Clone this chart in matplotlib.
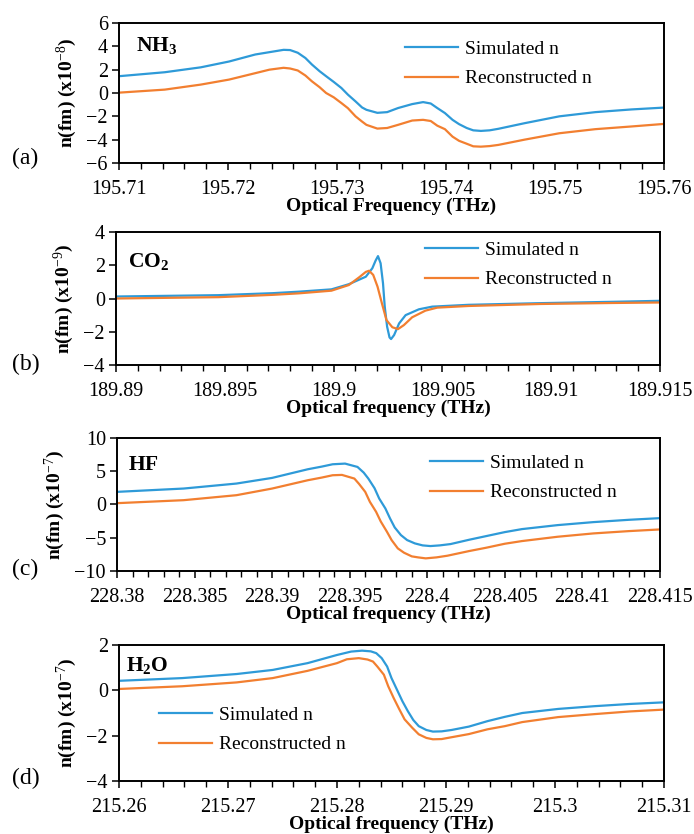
import matplotlib
matplotlib.use("Agg")
import matplotlib.pyplot as plt
from matplotlib.ticker import MultipleLocator

plt.rcParams.update({
    "font.family": ["Liberation Serif", "DejaVu Serif"],
    "mathtext.fontset": "custom",
    "mathtext.rm": "Liberation Serif",
    "mathtext.bf": "Liberation Serif:bold",
    "mathtext.it": "Liberation Serif:italic",
    "font.size": 14,
})

# ---- data ----
# (a) NH3, n x1e-8
nh3_x = [195.7100, 195.7142, 195.7175, 195.7201, 195.7225, 195.7238, 195.7251,
         195.7257, 195.7264, 195.7271, 195.7277, 195.7284, 195.7290, 195.7297,
         195.7304, 195.7310, 195.7317, 195.7323, 195.7327, 195.7337, 195.7346,
         195.7356, 195.7369, 195.7379, 195.7386, 195.7392, 195.7399, 195.7406,
         195.7412, 195.7419, 195.7425, 195.7432, 195.7440, 195.7448, 195.7472,
         195.7504, 195.7537, 195.7570, 195.7600]
nh3_sim = [1.44, 1.78, 2.2, 2.7, 3.3, 3.5, 3.7, 3.68, 3.45, 3.0, 2.44, 1.87, 1.44,
           0.95, 0.43, -0.14, -0.72, -1.24, -1.44, -1.7, -1.64, -1.29, -0.95,
           -0.78, -0.9, -1.29, -1.72, -2.3, -2.67, -3.0, -3.2, -3.25, -3.2, -3.07,
           -2.59, -2.0, -1.64, -1.41, -1.25]
nh3_rec = [0.03, 0.29, 0.72, 1.15, 1.7, 2.0, 2.16, 2.1, 1.93, 1.5, 1.0, 0.5, 0.0,
           -0.37, -0.86, -1.3, -2.0, -2.45, -2.73, -3.05, -3.0, -2.73, -2.36,
           -2.3, -2.4, -2.8, -3.1, -3.74, -4.1, -4.35, -4.57, -4.6, -4.55, -4.45,
           -4.0, -3.45, -3.1, -2.87, -2.65]

# (b) CO2, n x1e-9
co2_x_sim = [189.8900, 189.8947, 189.8972, 189.8984, 189.8999, 189.9007, 189.90148,
             189.90178, 189.90193, 189.90204, 189.90216, 189.90227, 189.90235,
             189.90246, 189.90257, 189.90264, 189.90278, 189.90301, 189.90331,
             189.90392, 189.90453, 189.9062, 189.9095, 189.9128, 189.9150]
co2_sim = [0.12, 0.2, 0.32, 0.41, 0.55, 0.86, 1.31, 1.82, 2.28, 2.55, 2.12, 0.92,
           -0.49, -1.7, -2.34, -2.44, -2.2, -1.5, -1.0, -0.65, -0.49, -0.38, -0.28,
           -0.2, -0.14]
co2_x_rec = [189.8900, 189.8947, 189.8972, 189.8984, 189.8999, 189.9007, 189.90118,
             189.90148, 189.90163, 189.90182, 189.90202, 189.90222, 189.90243,
             189.90270, 189.90296, 189.90323, 189.90361, 189.90422, 189.90476,
             189.9062, 189.9095, 189.9128, 189.9150]
co2_rec = [0.0, 0.08, 0.22, 0.31, 0.47, 0.81, 1.28, 1.6, 1.67, 1.42, 0.71, -0.29,
           -1.3, -1.73, -1.84, -1.6, -1.13, -0.73, -0.55, -0.45, -0.33, -0.27, -0.24]

# (c) HF, n x1e-7
hf_x_sim = [228.3800, 228.3843, 228.3877, 228.3900, 228.3923, 228.3932, 228.3939,
            228.3947, 228.3955, 228.3959, 228.3962, 228.3966, 228.3969, 228.3973,
            228.3976, 228.3979, 228.3983, 228.3987, 228.3992, 228.3997, 228.4002,
            228.4008, 228.4015, 228.4027, 228.4038, 228.4050, 228.4061, 228.4084,
            228.4107, 228.4130, 228.4150]
hf_sim = [1.9, 2.4, 3.15, 4.0, 5.3, 5.7, 6.05, 6.15, 5.65, 4.8, 3.9, 2.45, 0.9,
          -0.6, -2.1, -3.45, -4.6, -5.35, -5.85, -6.15, -6.25, -6.15, -5.95, -5.3,
          -4.75, -4.15, -3.7, -3.1, -2.65, -2.3, -2.05]
hf_x_rec = [228.3800, 228.3843, 228.3877, 228.3900, 228.3923, 228.3932, 228.3939,
            228.3945, 228.3953, 228.3956, 228.3960, 228.3963, 228.3967, 228.3970,
            228.3974, 228.3977, 228.3981, 228.3985, 228.3990, 228.3994, 228.3999,
            228.4006, 228.4013, 228.4027, 228.4038, 228.4050, 228.4061, 228.4084,
            228.4107, 228.4130, 228.4150]
hf_rec = [0.2, 0.65, 1.4, 2.4, 3.65, 4.05, 4.4, 4.45, 3.9, 3.1, 1.9, 0.4, -1.1,
          -2.55, -4.1, -5.35, -6.6, -7.25, -7.8, -7.95, -8.1, -7.95, -7.7, -7.0,
          -6.5, -5.9, -5.5, -4.85, -4.35, -4.0, -3.75]

# (d) H2O, n x1e-7
h2o_x_sim = [215.2600, 215.2658, 215.2708, 215.2741, 215.2773, 215.2800, 215.2813,
             215.2823, 215.2831, 215.2836, 215.2841, 215.2846, 215.2850, 215.2855,
             215.2860, 215.2865, 215.2870, 215.2875, 215.2882, 215.2888, 215.2896,
             215.2905, 215.2921, 215.2938, 215.2954, 215.2970, 215.3003, 215.3036,
             215.3069, 215.3100]
h2o_sim = [0.42, 0.54, 0.72, 0.9, 1.2, 1.56, 1.71, 1.75, 1.72, 1.64, 1.42, 1.05,
           0.54, 0.03, -0.48, -0.92, -1.31, -1.58, -1.75, -1.82, -1.81, -1.75,
           -1.6, -1.36, -1.17, -1.0, -0.82, -0.7, -0.6, -0.53]
h2o_x_rec = [215.2600, 215.2658, 215.2708, 215.2741, 215.2773, 215.2800, 215.2809,
             215.2820, 215.2828, 215.2833, 215.2837, 215.2843, 215.2847, 215.2852,
             215.2857, 215.2862, 215.2869, 215.2875, 215.2882, 215.2888, 215.2896,
             215.2905, 215.2921, 215.2938, 215.2954, 215.2970, 215.3003, 215.3036,
             215.3069, 215.3100]
h2o_rec = [0.06, 0.18, 0.35, 0.54, 0.86, 1.2, 1.37, 1.42, 1.36, 1.27, 1.05, 0.69,
           0.18, -0.34, -0.82, -1.28, -1.65, -1.94, -2.1, -2.16, -2.15, -2.07,
           -1.93, -1.72, -1.58, -1.4, -1.18, -1.05, -0.93, -0.85]

BLUE = "#2E9AD8"
ORANGE = "#F27F30"
W, H = 694, 834

fig = plt.figure(figsize=(W / 100, H / 100), dpi=100)


def px_axes(l, r, t, b):
    return fig.add_axes([l / W, 1 - b / H, (r - l) / W, (b - t) / H])


panels = [
    dict(box=(119, 664, 23, 163), xs=nh3_x, ys=nh3_sim, xr=nh3_x, yr=nh3_rec,
         xlim=(195.71, 195.76), xmaj=0.01, xmin=0.002,
         ylim=(-6, 6), ymaj=2, exp="-8", xlabel="Optical Frequency (THz)",
         name=r"$\mathbf{NH_3}$", name_xy=(136, 46), tag="(a)", tag_y=158,
         leg=(405, 64)),
    dict(box=(116, 660, 232, 365), xs=co2_x_sim, ys=co2_sim, xr=co2_x_rec, yr=co2_rec,
         xlim=(189.89, 189.915), xmaj=0.005, xmin=0.001,
         ylim=(-4, 4), ymaj=2, exp="-9", xlabel="Optical frequency (THz)",
         name=r"$\mathbf{CO_2}$", name_xy=(128, 261), tag="(b)", tag_y=364,
         leg=(425, 265)),
    dict(box=(117, 660, 438, 571), xs=hf_x_sim, ys=hf_sim, xr=hf_x_rec, yr=hf_rec,
         xlim=(228.38, 228.415), xmaj=0.005, xmin=0.001,
         ylim=(-10, 10), ymaj=5, exp="-7", xlabel="Optical frequency (THz)",
         name=r"$\mathbf{HF}$", name_xy=(128, 466), tag="(c)", tag_y=569,
         leg=(430, 478)),
    dict(box=(119, 664, 645, 781), xs=h2o_x_sim, ys=h2o_sim, xr=h2o_x_rec, yr=h2o_rec,
         xlim=(215.26, 215.31), xmaj=0.01, xmin=0.002,
         ylim=(-4, 2), ymaj=2, exp="-7", xlabel="Optical frequency (THz)",
         name=r"$\mathbf{H_2O}$", name_xy=(126, 666), tag="(d)", tag_y=778,
         leg=(159, 730)),
]

for p in panels:
    ax = px_axes(*p["box"])
    ax.plot(p["xs"], p["ys"], color=BLUE, lw=1.6, label="Simulated n")
    ax.plot(p["xr"], p["yr"], color=ORANGE, lw=1.6, label="Reconstructed n")
    ax.set_xlim(*p["xlim"])
    ax.set_ylim(*p["ylim"])
    ax.xaxis.set_major_locator(MultipleLocator(p["xmaj"]))
    ax.xaxis.set_minor_locator(MultipleLocator(p["xmin"]))
    ax.yaxis.set_major_locator(MultipleLocator(p["ymaj"]))
    ax.xaxis.set_major_formatter(
        plt.FuncFormatter(lambda v, pos: ("%.3f" % v).rstrip("0").rstrip(".")))
    ax.tick_params(axis="both", which="major", direction="out", length=5,
                   width=1.1, labelsize=14.5, pad=7)
    ax.tick_params(axis="y", pad=3)
    ax.tick_params(axis="x", which="minor", direction="out", length=4, width=1.0)
    for s in ax.spines.values():
        s.set_linewidth(1.4)
    ax.set_xlabel(p["xlabel"], fontsize=14, fontweight="bold", labelpad=-1)
    ax.set_ylabel(r"n(fm) (x10$^{" + p["exp"] + "}$)", fontsize=14,
                  fontweight="bold", labelpad=5)
    fig.text(p["name_xy"][0] / W, 1 - p["name_xy"][1] / H, p["name"],
             fontsize=15.5, va="center", ha="left")
    fig.text(12 / W, 1 - p["tag_y"] / H, p["tag"], fontsize=17, va="center",
             ha="left")
    ax.legend(loc="center left", bbox_to_anchor=(p["leg"][0] / W, 1 - p["leg"][1] / H),
              bbox_transform=fig.transFigure, frameon=False, fontsize=14,
              handlelength=2.7, handletextpad=0.4, labelspacing=0.6,
              borderpad=0, borderaxespad=0)

fig.savefig("out.png", dpi=100)
